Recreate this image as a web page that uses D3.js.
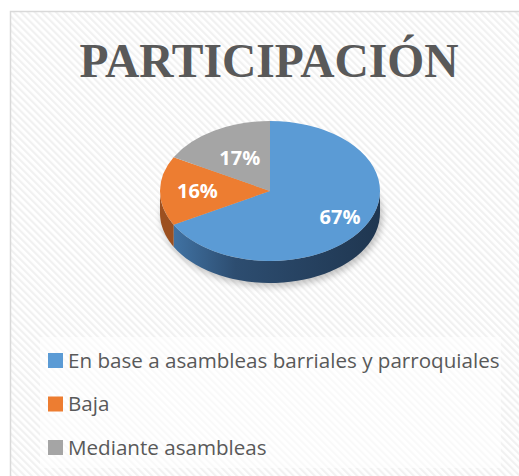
<!DOCTYPE html>
<html>
<head>
<meta charset="utf-8">
<script src="https://cdn.jsdelivr.net/npm/d3@7"></script>
<style>
  body { margin: 0; background: #fff; }
</style>
</head>
<body>
<div class="chart"></div>
<script>
var svgWidth = 519;
var svgHeight = 476;

// chart data
var categories = ["En base a asambleas barriales y parroquiales", "Baja", "Mediante asambleas"];
var values = [67, 16, 17];
var labels = ["67%", "16%", "17%"];
var colors = ["#5B9BD5", "#ED7D31", "#A5A5A5"];
var sideColors = ["#2f5577", "#9c5020", "#6e6e6e"];
// how far out each data label sits (fraction of radius)
var labelRadius = [0.74, 0.66, 0.54];

var svg = d3.select(".chart")
  .append("svg")
  .attr("width", svgWidth)
  .attr("height", svgHeight);

var defs = svg.append("defs");

// diagonal hatch background
var pat = defs.append("pattern")
  .attr("id", "hatch")
  .attr("patternUnits", "userSpaceOnUse")
  .attr("width", 5)
  .attr("height", 5)
  .attr("patternTransform", "rotate(-45)");
pat.append("rect").attr("width", 5).attr("height", 5).attr("fill", "#ffffff");
pat.append("rect").attr("width", 2.2).attr("height", 5).attr("fill", "#f1f1f1");

var sideGrad = defs.append("linearGradient")
  .attr("id", "sideGrad")
  .attr("x1", "0%").attr("x2", "100%");
sideGrad.append("stop").attr("offset", "0%").attr("stop-color", "#4072a3");
sideGrad.append("stop").attr("offset", "30%").attr("stop-color", "#2d4d70");
sideGrad.append("stop").attr("offset", "100%").attr("stop-color", "#1f3650");

defs.append("filter")
  .attr("id", "blur")
  .attr("x", "-20%").attr("y", "-20%").attr("width", "140%").attr("height", "140%")
  .append("feGaussianBlur")
  .attr("stdDeviation", 3);

// chart area
svg.append("rect")
  .attr("x", 10.5)
  .attr("y", 11.5)
  .attr("width", 520)
  .attr("height", 480)
  .attr("fill", "url(#hatch)")
  .attr("stroke", "#d9d9d9")
  .attr("stroke-width", 1.5);

// title
svg.append("text")
  .attr("x", 269)
  .attr("y", 77)
  .attr("text-anchor", "middle")
  .attr("font-family", "Liberation Serif, Times New Roman, serif")
  .attr("font-weight", "bold")
  .attr("font-size", 47.5)
  .attr("fill", "#595959")
  .text("PARTICIPACIÓN");

// pie
var cx = 270, cy = 191, rx = 110, ry = 70, depth = 22;
var k = ry / rx;

var pie = d3.pie().sort(null).value(d => d);
var arcs = pie(values);

var pieGroup = svg.append("g")
  .attr("transform", `translate(${cx}, ${cy})`);

// soft shadow under the pie
pieGroup.append("ellipse")
  .attr("cx", 2)
  .attr("cy", depth + 3)
  .attr("rx", rx + 1)
  .attr("ry", ry + 1)
  .attr("fill", "#000")
  .attr("opacity", 0.22)
  .attr("filter", "url(#blur)");

// side walls (only front half visible)
function sidePath(a0, a1) {
  var s = Math.max(a0, Math.PI / 2), e = Math.min(a1, 3 * Math.PI / 2);
  if (e <= s) return null;
  var pts = [];
  var n = 40;
  for (var i = 0; i <= n; i++) {
    var a = s + (e - s) * i / n;
    pts.push([rx * Math.sin(a), -ry * Math.cos(a)]);
  }
  for (var j = n; j >= 0; j--) {
    var b = s + (e - s) * j / n;
    pts.push([rx * Math.sin(b), -ry * Math.cos(b) + depth]);
  }
  return "M" + pts.map(p => p.join(",")).join("L") + "Z";
}

arcs.forEach(function(d, i) {
  var p = sidePath(d.startAngle, d.endAngle);
  if (p) {
    pieGroup.append("path")
      .attr("d", p)
      .attr("fill", i === 0 ? "url(#sideGrad)" : sideColors[i]);
  }
});

var arc = d3.arc().innerRadius(0).outerRadius(rx);

pieGroup.append("g")
  .attr("transform", `scale(1, ${k})`)
  .selectAll("path")
  .data(arcs)
  .enter()
  .append("path")
  .attr("d", arc)
  .attr("fill", (d, i) => colors[i]);

// labels
pieGroup.selectAll("text.lbl")
  .data(arcs)
  .enter()
  .append("text")
  .attr("class", "lbl")
  .attr("x", (d, i) => d3.arc().innerRadius(rx * labelRadius[i]).outerRadius(rx * labelRadius[i]).centroid(d)[0])
  .attr("y", (d, i) => d3.arc().innerRadius(rx * labelRadius[i]).outerRadius(rx * labelRadius[i]).centroid(d)[1] * k + 7)
  .attr("text-anchor", "middle")
  .attr("font-family", "Open Sans, Noto Sans, sans-serif")
  .attr("font-weight", "bold")
  .attr("font-size", 20)
  .attr("fill", "#ffffff")
  .text((d, i) => labels[i]);

// legend
svg.append("rect")
  .attr("x", 40)
  .attr("y", 337)
  .attr("width", 461)
  .attr("height", 131)
  .attr("fill", "#ffffff")
  .attr("opacity", 0.6);

var legend = svg.append("g");
var rowY = d3.scalePoint().domain(categories).range([360, 447]);

var rows = legend.selectAll("g")
  .data(categories)
  .enter()
  .append("g")
  .attr("transform", d => `translate(48, ${rowY(d)})`);

rows.append("rect")
  .attr("x", 0)
  .attr("y", -7)
  .attr("width", 15)
  .attr("height", 15)
  .attr("fill", (d, i) => colors[i]);

rows.append("text")
  .attr("x", 20)
  .attr("y", 7.5)
  .attr("font-family", "Open Sans, Noto Sans, sans-serif")
  .attr("font-size", 20.6)
  .attr("fill", "#595959")
  .text(d => d);
</script>
</body>
</html>
